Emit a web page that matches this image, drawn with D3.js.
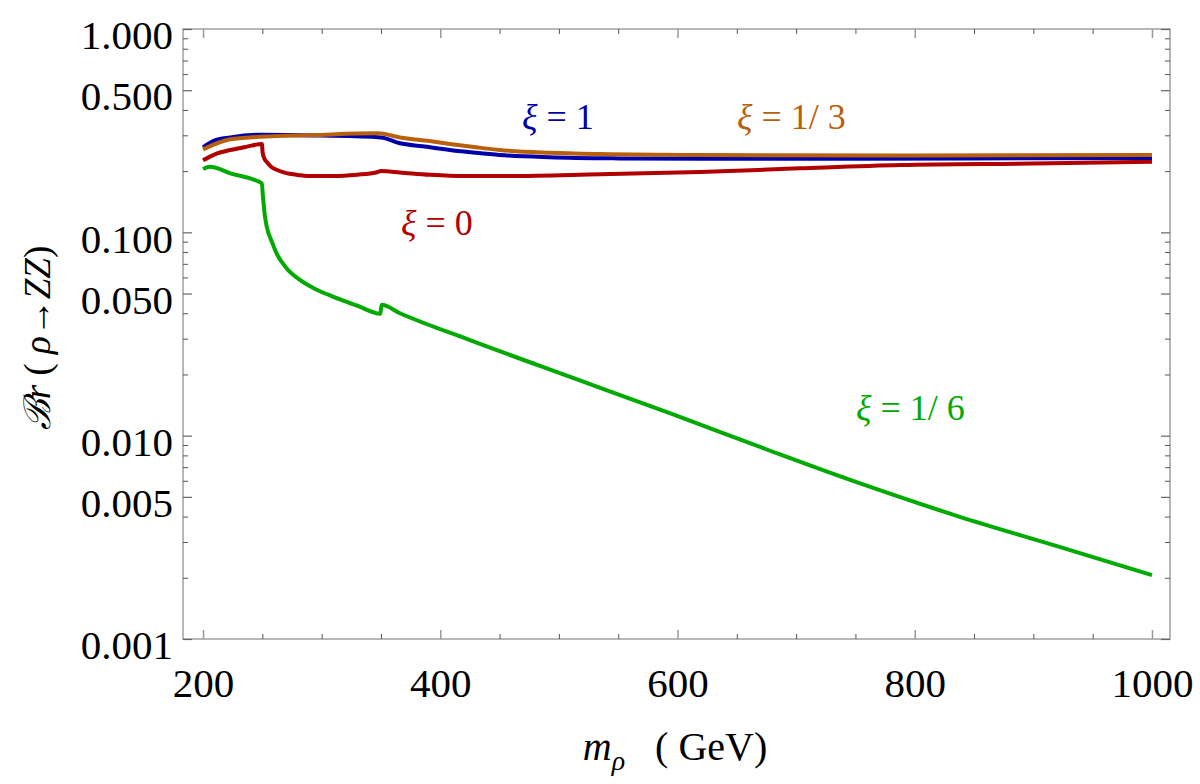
<!DOCTYPE html>
<html>
<head>
<meta charset="UTF-8">
<title>Br(rho -> ZZ)</title>
<script src="https://d3js.org/d3.v7.min.js"></script>
<style>
  body { margin: 0; background: #fff; }
  svg text { font-family: "Liberation Serif", "Times New Roman", serif; white-space: pre; }
</style>
</head>
<body>
<div id="chart"></div>
<script>
// --- data (m_rho in GeV, branching ratio) ---
const massXi1 = [200, 209, 223, 248, 300, 350, 366, 385, 408, 430, 450, 492, 550, 620, 700, 850, 1000];
const brXi1   = [0.262, 0.282, 0.293, 0.302, 0.299, 0.293, 0.274, 0.265, 0.254, 0.246, 0.240, 0.234, 0.231, 0.230, 0.230, 0.231, 0.232];

const massXi13 = [200, 223, 248, 293, 346, 350, 366, 391, 408, 430, 450, 492, 535, 620, 788, 1000];
const brXi13   = [0.256, 0.287, 0.295, 0.301, 0.307, 0.306, 0.293, 0.281, 0.272, 0.262, 0.254, 0.2463, 0.2427, 0.240, 0.2388, 0.240];

const massXi0 = [200, 210, 223, 237, 249.6, 250.2, 251.5, 254, 257, 262, 268, 282, 293, 310, 330, 346, 350, 366, 391, 420, 450, 535, 619, 703, 788, 900, 1000];
const brXi0   = [0.226, 0.242, 0.254, 0.264, 0.272, 0.248, 0.232, 0.221, 0.211, 0.203, 0.197, 0.191, 0.189, 0.189, 0.192, 0.197, 0.200, 0.197, 0.192, 0.189, 0.189, 0.193, 0.198, 0.2064, 0.2143, 0.218, 0.2225];

const massXi16 = [200, 206, 223, 249.6, 250.3, 250.8, 251.8, 253.7, 258, 262, 270, 282, 295, 310, 330, 349.5, 350.5, 366, 425, 509, 594, 678, 754, 838, 922, 1000];
const brXi16   = [0.2048, 0.210, 0.195, 0.174, 0.155, 0.144, 0.125, 0.1066, 0.090, 0.0788, 0.067, 0.0582, 0.0525, 0.0482, 0.0436, 0.0398, 0.0440, 0.0400, 0.0295, 0.0195, 0.01287, 0.00843, 0.00582, 0.00399, 0.00284, 0.00206];

const xDomain = [183.1, 1015.2];
const yDomain = [0.001, 1];
const xMajor = [200, 400, 600, 800, 1000];
const xMinor = [250, 300, 350, 450, 500, 550, 650, 700, 750, 850, 900, 950];
const yMajor = [0.001, 0.005, 0.01, 0.05, 0.1, 0.5, 1];
const yMinor = [0.002, 0.003, 0.004, 0.006, 0.007, 0.008, 0.009,
                0.02, 0.03, 0.04, 0.06, 0.07, 0.08, 0.09,
                0.2, 0.3, 0.4, 0.6, 0.7, 0.8, 0.9];

const series = [
  {name: "xi16", mass: massXi16, br: brXi16, color: "#00aa00"},
  {name: "xi0",  mass: massXi0,  br: brXi0,  color: "#b00000"},
  {name: "xi1",  mass: massXi1,  br: brXi1,  color: "#0000aa"},
  {name: "xi13", mass: massXi13, br: brXi13, color: "#b8600c"}
];

const labels = [
  {value: "1",    x: 522, y: 129, color: "#0000aa"},
  {value: "1/ 3", x: 737, y: 129, color: "#b8600c"},
  {value: "0",    x: 401, y: 235, color: "#b00000"},
  {value: "1/ 6", x: 856, y: 420, color: "#00aa00"}
];

// --- layout ---
const W = 1200, H = 784;
const plotLeft = 183, plotRight = 1170, plotTop = 29, plotBottom = 639;

const svg = d3.select("#chart").append("svg")
  .attr("width", W).attr("height", H);

const x = d3.scaleLinear().domain(xDomain).range([plotLeft, plotRight]);
const y = d3.scaleLog().domain(yDomain).range([plotBottom, plotTop]);

function styleAxis(g, color, width) {
  g.attr("font-family", null);
  g.select(".domain").remove();
  g.selectAll("line").attr("stroke", color).attr("stroke-width", width);
}

// frame
svg.append("rect")
  .attr("x", plotLeft).attr("y", plotTop)
  .attr("width", plotRight - plotLeft).attr("height", plotBottom - plotTop)
  .attr("fill", "none").attr("stroke", "#888").attr("stroke-width", 1.2);

// left axis with labels
svg.append("g")
  .attr("transform", `translate(${plotLeft},0)`)
  .call(d3.axisLeft(y).tickValues(yMajor).tickSize(-9).tickPadding(10).tickFormat(d3.format(".3f")))
  .call(g => styleAxis(g, "#666", 1.2))
  .call(g => g.selectAll("text").attr("dy", "0.48em").style("font-size", "41px").attr("fill", "#000"));
svg.append("g")
  .attr("transform", `translate(${plotLeft},0)`)
  .call(d3.axisLeft(y).tickValues(yMinor).tickSize(-5).tickFormat(""))
  .call(g => styleAxis(g, "#555", 1));

// right axis
svg.append("g")
  .attr("transform", `translate(${plotRight},0)`)
  .call(d3.axisRight(y).tickValues(yMajor).tickSize(-9).tickFormat(""))
  .call(g => styleAxis(g, "#666", 1.2));
svg.append("g")
  .attr("transform", `translate(${plotRight},0)`)
  .call(d3.axisRight(y).tickValues(yMinor).tickSize(-5).tickFormat(""))
  .call(g => styleAxis(g, "#555", 1));

// bottom axis with labels
svg.append("g")
  .attr("transform", `translate(0,${plotBottom})`)
  .call(d3.axisBottom(x).tickValues(xMajor).tickSize(-9).tickPadding(29).tickFormat(d3.format("d")))
  .call(g => styleAxis(g, "#999", 1.5))
  .call(g => g.selectAll("text").style("font-size", "41px").attr("fill", "#000"));
svg.append("g")
  .attr("transform", `translate(0,${plotBottom})`)
  .call(d3.axisBottom(x).tickValues(xMinor).tickSize(-5).tickFormat(""))
  .call(g => styleAxis(g, "#555", 1));

// top axis
svg.append("g")
  .attr("transform", `translate(0,${plotTop})`)
  .call(d3.axisTop(x).tickValues(xMajor).tickSize(-9).tickFormat(""))
  .call(g => styleAxis(g, "#999", 1.5));
svg.append("g")
  .attr("transform", `translate(0,${plotTop})`)
  .call(d3.axisTop(x).tickValues(xMinor).tickSize(-5).tickFormat(""))
  .call(g => styleAxis(g, "#555", 1));

// curves
const line = d3.line()
  .x(d => x(d[0]))
  .y(d => y(d[1]))
  .curve(d3.curveMonotoneX);

svg.selectAll(".curve")
  .data(series)
  .enter()
  .append("path")
  .attr("class", "curve")
  .attr("fill", "none")
  .attr("stroke", d => d.color)
  .attr("stroke-width", 4)
  .attr("stroke-linejoin", "round")
  .attr("d", d => line(d.mass.map((m, i) => [m, d.br[i]])));

// curve labels
labels.forEach(l => {
  const t = svg.append("text")
    .attr("x", l.x).attr("y", l.y)
    .attr("fill", l.color)
    .style("font-size", "36px");
  t.append("tspan").style("font-style", "italic").text("ξ");
  t.append("tspan").text(" = " + l.value);
});

// axis titles
const xt = svg.append("text")
  .attr("x", 675).attr("y", 760)
  .attr("text-anchor", "middle")
  .style("font-size", "40px");
xt.append("tspan").style("font-style", "italic").text("m");
xt.append("tspan").style("font-style", "italic").style("font-size", "28px").attr("dy", 10).text("ρ");
xt.append("tspan").attr("dy", -10).text("   ( GeV)");

const yt = svg.append("text")
  .attr("transform", "translate(50,338) rotate(-90)")
  .attr("text-anchor", "middle")
  .style("font-size", "37px");
yt.append("tspan").style("font-family", "'DejaVu Serif', serif").style("font-style", "italic").text("ℬ");
yt.append("tspan").style("font-style", "italic").text("r");
yt.append("tspan").text(" ( ");
yt.append("tspan").style("font-style", "italic").text("ρ");
yt.append("tspan").text("→");
yt.append("tspan").style("font-style", "italic").text("ZZ");
yt.append("tspan").text(")");
</script>
</body>
</html>
